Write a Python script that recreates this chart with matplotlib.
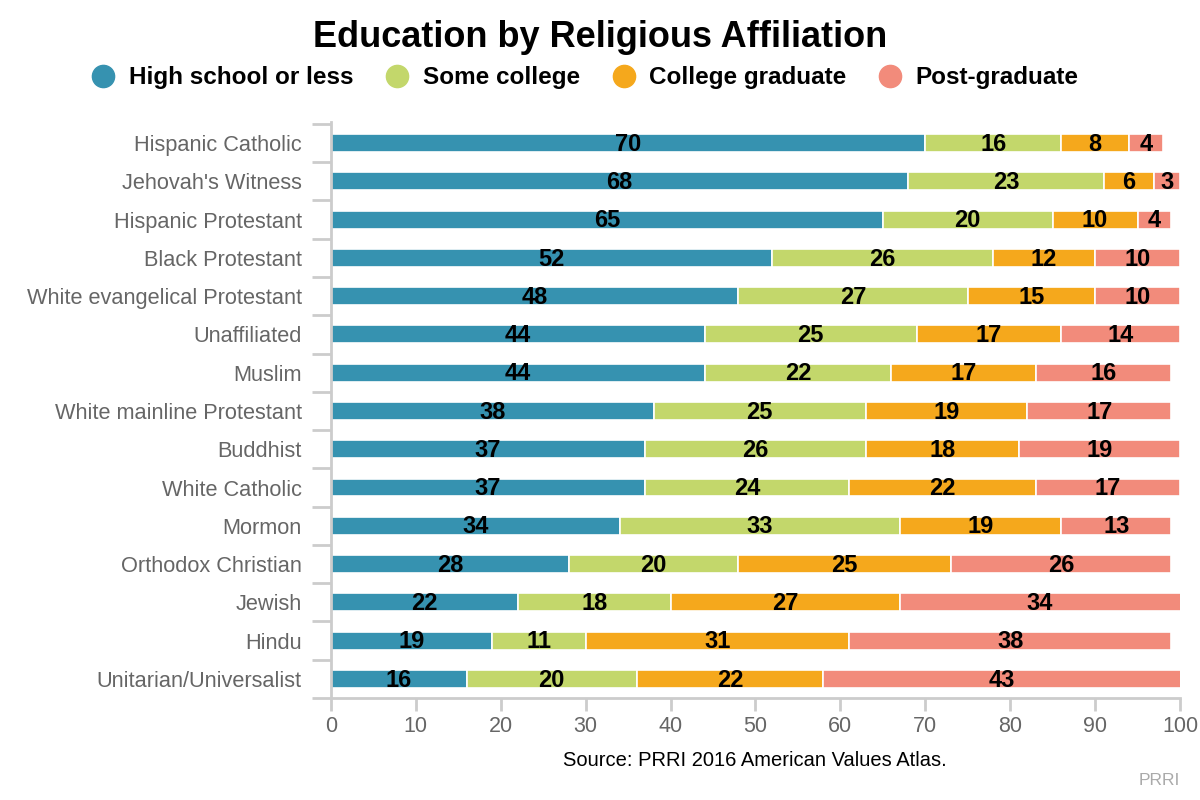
import numpy as np
import matplotlib
matplotlib.use('Agg')
import matplotlib.pyplot as plt
from matplotlib.lines import Line2D

plt.rcParams['font.family'] = ['Liberation Sans', 'DejaVu Sans']

# data
groups = ['Hispanic Catholic', "Jehovah's Witness", 'Hispanic Protestant', 'Black Protestant',
          'White evangelical Protestant', 'Unaffiliated', 'Muslim', 'White mainline Protestant',
          'Buddhist', 'White Catholic', 'Mormon', 'Orthodox Christian', 'Jewish', 'Hindu',
          'Unitarian/Universalist']
high_school = [70, 68, 65, 52, 48, 44, 44, 38, 37, 37, 34, 28, 22, 19, 16]
some_college = [16, 23, 20, 26, 27, 25, 22, 25, 26, 24, 33, 20, 18, 11, 20]
college_grad = [8, 6, 10, 12, 15, 17, 17, 19, 18, 22, 19, 25, 27, 31, 22]
post_grad = [4, 3, 4, 10, 10, 14, 16, 17, 19, 17, 13, 26, 34, 38, 43]

series = ['High school or less', 'Some college', 'College graduate', 'Post-graduate']
colors = ['#3692b0', '#c3d76b', '#f5a81c', '#f28b7b']
grid = '#cccccc'
label_gray = '#666666'

fig = plt.figure(figsize=(12, 8), dpi=100)
ax = fig.add_axes([0.2758, 0.1275, 0.7075, 0.72])

y = np.arange(len(groups))
left = np.zeros(len(groups))
for vals, col in zip([high_school, some_college, college_grad, post_grad], colors):
    vals = np.array(vals, dtype=float)
    ax.barh(y, vals, left=left, height=0.47, color=col, edgecolor='white', linewidth=1.2)
    for yi, l, v in zip(y, left, vals):
        lo, hi = l, min(l + v, 100)   # bars past 100 get clipped, label sits in the visible part
        ax.text((lo + hi) / 2, yi + 0.03, f'{int(v)}', ha='center', va='center',
                fontsize=17, fontweight='bold', color='black')
    left += vals

ax.set_xlim(0, 100)
ax.set_ylim(len(groups) - 0.5, -0.55)

ax.set_xticks(np.arange(0, 101, 10))
ax.tick_params(axis='x', colors=grid, labelcolor=label_gray, labelsize=15.5,
               length=9, width=2, pad=4)

# boundary ticks as major, category names as minor
ax.set_yticks(np.arange(-0.5, len(groups), 1))
ax.set_yticklabels([])
ax.set_yticks(y, minor=True)
ax.set_yticklabels(groups, minor=True)
ax.tick_params(axis='y', which='major', colors=grid, length=14, width=2)
ax.tick_params(axis='y', which='minor', length=0, labelcolor=label_gray, labelsize=15.7, pad=21)

for s in ['top', 'right']:
    ax.spines[s].set_visible(False)
for s in ['left', 'bottom']:
    ax.spines[s].set_color(grid)
    ax.spines[s].set_linewidth(2)

fig.text(0.5, 0.953, 'Education by Religious Affiliation', ha='center', va='center',
         fontsize=26, fontweight='bold')

handles = [Line2D([0], [0], marker='o', linestyle='', markersize=16,
                  markerfacecolor=c, markeredgecolor=c) for c in colors]
leg = fig.legend(handles, series, loc='center', bbox_to_anchor=(0.4875, 0.903), ncol=4,
                 frameon=False, handlelength=1.0, handletextpad=0.55, columnspacing=1.3,
                 borderpad=0, prop={'size': 17.5, 'weight': 'bold'})

fig.text(0.629, 0.05, 'Source: PRRI 2016 American Values Atlas.', ha='center', va='center',
         fontsize=14.5)
fig.text(0.983, 0.024, 'PRRI', ha='right', va='center', fontsize=12.5, color='#aaaaaa')

fig.savefig('out.png', dpi=100)
